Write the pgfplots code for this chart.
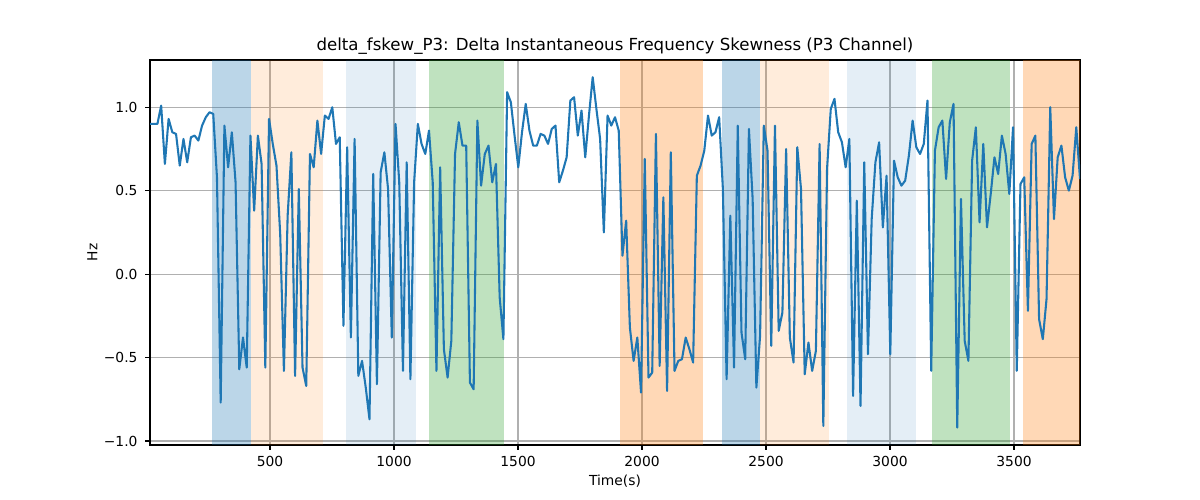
\documentclass[border=0pt]{standalone}
\usepackage{fontspec}
\setmainfont{DejaVu Sans}
\usepackage{pgfplots}
\pgfplotsset{compat=1.18}
\usepackage{pgfplotstable}
\definecolor{tabblue}{HTML}{1F77B4}
\definecolor{taborange}{HTML}{FF7F0E}
\definecolor{tabgreen}{HTML}{2CA02C}
\definecolor{gridgray}{HTML}{B0B0B0}
\pgfplotstableread{
t v
16 0.90
31 0.90
46 0.90
61 1.01
76 0.66
91 0.93
106 0.85
121 0.84
136 0.65
151 0.81
166 0.67
181 0.82
196 0.83
211 0.80
226 0.89
241 0.94
256 0.97
271 0.96
286 0.58
301 -0.77
316 0.89
331 0.64
346 0.85
361 0.55
376 -0.57
391 -0.38
406 -0.56
421 0.83
436 0.38
451 0.83
466 0.66
481 -0.56
496 0.93
511 0.78
526 0.65
541 0.24
556 -0.58
571 0.35
586 0.73
601 -0.61
616 0.51
631 -0.56
646 -0.67
661 0.72
676 0.64
691 0.92
706 0.72
721 0.95
736 0.93
751 1.00
766 0.78
781 0.82
796 -0.31
811 0.76
826 -0.38
841 0.81
856 -0.61
871 -0.52
886 -0.68
901 -0.87
916 0.60
931 -0.66
946 0.61
961 0.73
976 0.51
991 -0.38
1006 0.90
1021 0.55
1036 -0.58
1051 0.67
1066 -0.63
1081 0.55
1096 0.90
1111 0.78
1126 0.72
1141 0.86
1156 0.55
1171 -0.58
1186 0.64
1201 -0.45
1216 -0.62
1231 -0.40
1246 0.72
1261 0.91
1276 0.77
1291 0.77
1306 -0.65
1321 -0.69
1336 0.92
1351 0.53
1366 0.72
1381 0.77
1396 0.55
1411 0.66
1426 -0.14
1441 -0.39
1456 1.09
1471 1.03
1486 0.83
1501 0.64
1516 0.85
1531 1.02
1546 0.86
1561 0.77
1576 0.77
1591 0.84
1606 0.83
1621 0.78
1636 0.87
1651 0.89
1666 0.55
1681 0.62
1696 0.70
1711 1.04
1726 1.06
1741 0.83
1756 0.98
1771 0.70
1786 0.95
1801 1.18
1816 0.99
1831 0.81
1846 0.25
1861 0.95
1876 0.89
1891 0.94
1906 0.86
1921 0.11
1936 0.32
1951 -0.32
1966 -0.52
1981 -0.38
1996 -0.71
2011 0.69
2026 -0.62
2041 -0.59
2056 0.84
2071 -0.55
2086 0.46
2101 -0.70
2116 0.73
2131 -0.58
2146 -0.52
2161 -0.51
2176 -0.38
2191 -0.45
2206 -0.53
2221 0.59
2236 0.65
2251 0.74
2266 0.95
2281 0.83
2296 0.85
2311 0.94
2326 0.51
2341 -0.63
2356 0.35
2371 -0.56
2386 0.89
2401 -0.35
2416 -0.51
2431 0.87
2446 0.45
2461 -0.68
2476 -0.37
2491 0.89
2506 0.74
2521 -0.43
2536 0.89
2551 -0.34
2566 -0.23
2581 0.75
2596 -0.38
2611 -0.53
2626 0.76
2641 0.51
2656 -0.60
2671 -0.41
2686 -0.58
2701 -0.46
2716 0.78
2731 -0.91
2746 0.63
2761 0.99
2776 1.05
2791 0.85
2806 0.79
2821 0.64
2836 0.81
2851 -0.73
2866 0.44
2881 -0.79
2896 0.67
2911 -0.48
2926 0.33
2941 0.67
2956 0.79
2971 0.28
2986 0.59
3001 -0.48
3016 0.68
3031 0.58
3046 0.53
3061 0.56
3076 0.71
3091 0.92
3106 0.76
3121 0.72
3136 0.78
3151 1.04
3166 -0.58
3181 0.74
3196 0.88
3211 0.92
3226 0.57
3241 0.91
3256 1.02
3271 -0.92
3286 0.45
3301 -0.40
3316 -0.52
3331 0.68
3346 0.88
3361 0.31
3376 0.78
3391 0.28
3406 0.48
3421 0.70
3436 0.60
3451 0.83
3466 0.72
3481 0.48
3496 0.88
3511 -0.58
3526 0.54
3541 0.58
3556 -0.22
3571 0.78
3586 0.83
3601 -0.27
3616 -0.39
3631 -0.15
3646 1.00
3661 0.33
3676 0.70
3691 0.77
3706 0.58
3721 0.50
3736 0.59
3751 0.88
3766 0.57
}\datatable

\begin{document}
\begin{tikzpicture}
\path[use as bounding box] (0,0) rectangle (12in,5in);
\begin{axis}[
  at={(1.5in,0.55in)}, anchor=south west,
  scale only axis, width=9.3in, height=3.85in,
  xmin=16, xmax=3766, ymin=-1.024, ymax=1.283,
  xtick={500,1000,1500,2000,2500,3000,3500},
  xticklabels={500,1000,1500,2000,2500,3000,3500},
  ytick={-1,-0.5,0,0.5,1},
  yticklabels={−1.0,−0.5,0.0,0.5,1.0},
  scaled x ticks=false, scaled y ticks=false,
  grid=major,
  grid style={draw=gridgray, line width=0.8pt},
  major grid style={draw=gridgray, line width=0.8pt},
  axis line style={line width=0.8pt},
  tick align=outside, major tick length=3.5pt,
  tick style={black, line width=0.8pt},
  xtick pos=lower, ytick pos=left,
  tick label style={font=\fontsize{10}{12}\selectfont},
  xticklabel style={yshift=-1pt},
  yticklabel style={xshift=-2pt},
  title={delta\_fskew\_P3: Delta Instantaneous Frequency Skewness (P3 Channel)},
  every axis title/.style={at={(0.5,1)}, anchor=base, yshift=6.5pt, inner sep=0pt, font=\fontsize{12}{14}\selectfont},
  xlabel={Time(s)},
  xlabel style={at={(axis description cs:0.5,0)}, anchor=base, yshift=-29.5pt, inner sep=0pt, font=\fontsize{10}{12}\selectfont},
  ylabel={Hz},
  ylabel style={at={(axis description cs:-0.0567,0.5)}, anchor=base, inner sep=0pt, font=\fontsize{10}{12}\selectfont},
]
\addplot[draw=none, fill=tabblue, fill opacity=0.3, forget plot] coordinates {(267,-1.024) (422,-1.024) (422,1.283) (267,1.283)};
\addplot[draw=none, fill=taborange, fill opacity=0.15, forget plot] coordinates {(422,-1.024) (712,-1.024) (712,1.283) (422,1.283)};
\addplot[draw=none, fill=tabblue, fill opacity=0.12, forget plot] coordinates {(806,-1.024) (1087,-1.024) (1087,1.283) (806,1.283)};
\addplot[draw=none, fill=tabgreen, fill opacity=0.3, forget plot] coordinates {(1141,-1.024) (1444,-1.024) (1444,1.283) (1141,1.283)};
\addplot[draw=none, fill=taborange, fill opacity=0.3, forget plot] coordinates {(1911,-1.024) (2247,-1.024) (2247,1.283) (1911,1.283)};
\addplot[draw=none, fill=tabblue, fill opacity=0.3, forget plot] coordinates {(2322,-1.024) (2477,-1.024) (2477,1.283) (2322,1.283)};
\addplot[draw=none, fill=taborange, fill opacity=0.15, forget plot] coordinates {(2477,-1.024) (2755,-1.024) (2755,1.283) (2477,1.283)};
\addplot[draw=none, fill=tabblue, fill opacity=0.12, forget plot] coordinates {(2826,-1.024) (3106,-1.024) (3106,1.283) (2826,1.283)};
\addplot[draw=none, fill=tabgreen, fill opacity=0.3, forget plot] coordinates {(3168,-1.024) (3485,-1.024) (3485,1.283) (3168,1.283)};
\addplot[draw=none, fill=taborange, fill opacity=0.3, forget plot] coordinates {(3535,-1.024) (3766,-1.024) (3766,1.283) (3535,1.283)};
\addplot[tabblue, line width=1.5pt, line join=round, mark=none] table[x=t, y=v]{\datatable};
\end{axis}
\end{tikzpicture}
\end{document}
